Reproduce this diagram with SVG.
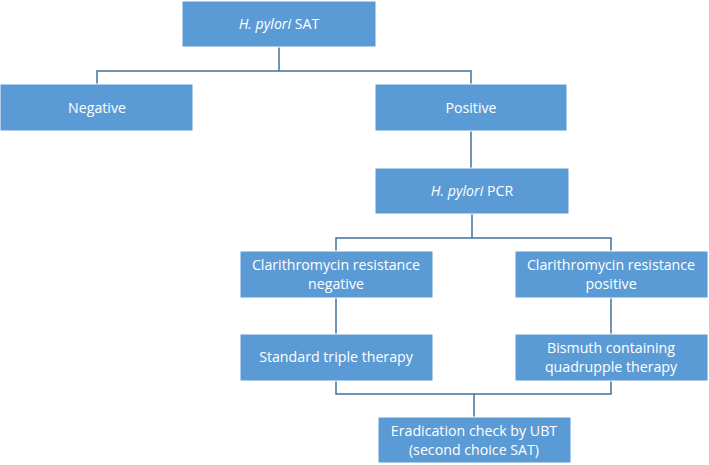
<svg xmlns="http://www.w3.org/2000/svg" width="709" height="465" viewBox="0 0 709 465">
<style>
.box{fill:#5B9BD5;stroke:#FFFFFF;stroke-width:1}
.t{font-family:"Open Sans","Noto Sans",sans-serif;font-size:14.2px;fill:#FFFFFF;text-anchor:middle}
.c{fill:none;stroke:#41719C;stroke-width:1.5}
</style>
<rect width="709" height="465" fill="#FFFFFF"/>
<g id="connectors">
<path class="c" d="M279,47 V71 M97,84 V71 H471 V84"/>
<path class="c" d="M471,131 V168"/>
<path class="c" d="M472,214 V238 M336,251 V238 H611 V251"/>
<path class="c" d="M336,298 V334 M611,298 V334"/>
<path class="c" d="M336,381 V394 H611 V381 M474,394 V417"/>
</g>
<g id="sat"><rect class="box" x="182" y="1" width="194" height="46"/><text class="t" x="279" y="29"><tspan font-style="italic">H. pylori</tspan> SAT</text></g>
<g id="negative"><rect class="box" x="0" y="84" width="193" height="47"/><text class="t" x="97" y="113">Negative</text></g>
<g id="positive"><rect class="box" x="375" y="84" width="192" height="47"/><text class="t" x="471" y="113">Positive</text></g>
<g id="pcr"><rect class="box" x="375" y="168" width="194" height="46"/><text class="t" x="472" y="196"><tspan font-style="italic">H. pylori</tspan> PCR</text></g>
<g id="clar-neg"><rect class="box" x="240" y="251" width="193" height="47"/><text class="t" x="336" y="270">Clarithromycin resistance</text><text class="t" x="336" y="289">negative</text></g>
<g id="clar-pos"><rect class="box" x="515" y="251" width="193" height="47"/><text class="t" x="611" y="270">Clarithromycin resistance</text><text class="t" x="611" y="289">positive</text></g>
<g id="triple"><rect class="box" x="240" y="334" width="193" height="47"/><text class="t" x="336" y="362">Standard triple therapy</text></g>
<g id="bismuth"><rect class="box" x="515" y="334" width="193" height="47"/><text class="t" x="611" y="353">Bismuth containing</text><text class="t" x="611" y="372">quadrupple therapy</text></g>
<g id="eradication"><rect class="box" x="378" y="417" width="193" height="46"/><text class="t" x="474" y="436">Eradication check by UBT</text><text class="t" x="474" y="455">(second choice SAT)</text></g>
</svg>
